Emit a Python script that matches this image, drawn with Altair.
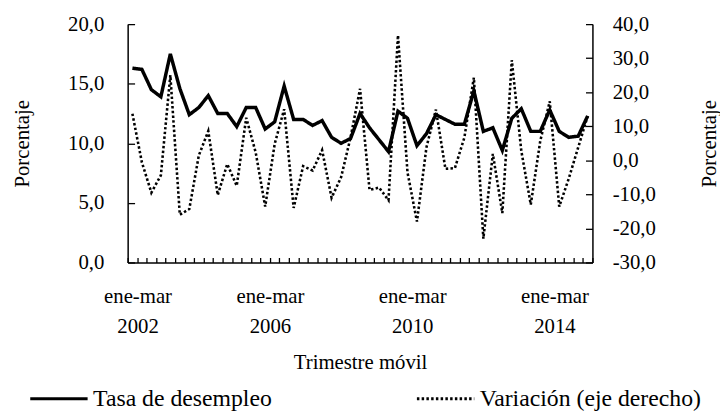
import json
import altair as alt
import pandas as pd

# ---------------- data ----------------
desempleo = [16.3, 16.2, 14.5, 13.9, 17.5, 14.6, 12.4, 13.0, 14.0, 12.5,
             12.5, 11.4, 13.0, 13.0, 11.2, 11.8, 14.8, 12.0, 12.0, 11.5,
             11.9, 10.5, 10.0, 10.4, 12.5, 11.3, 10.3, 9.3, 12.7, 12.1,
             9.8, 10.8, 12.4, 12.0, 11.6, 11.6, 14.4, 11.0, 11.3, 9.4,
             12.1, 12.9, 11.0, 11.0, 12.8, 11.0, 10.5, 10.6, 12.3]
variacion = [13.7, -0.6, -9.5, -4.4, 25.0, -16.0, -14.3, 1.4, 8.6, -10.2,
             -1.1, -7.5, 12.5, 2.3, -13.6, 4.8, 15.0, -14.0, -1.7, -3.0,
             3.0, -11.0, -5.0, 6.7, 21.0, -8.7, -8.0, -11.7, 36.7, -3.5,
             -18.0, 3.8, 14.9, -2.5, -2.3, 6.7, 24.3, -23.0, 1.9, -15.5,
             29.4, 2.8, -13.0, 5.7, 17.3, -13.6, -5.4, 3.8, 13.0]
series = ["Tasa de desempleo", "Variación (eje derecho)"]
x_label_pos = [0, 15, 30, 45]
x_labels = [["ene-mar", "2002"], ["ene-mar", "2006"],
            ["ene-mar", "2010"], ["ene-mar", "2014"]]
y_left_ticks = [0, 5, 10, 15, 20]
y_right_ticks = [-30, -20, -10, 0, 10, 20, 30, 40]

n = len(desempleo)
periodo = list(range(n))
df1 = pd.DataFrame({"pos": [p + 0.5 for p in periodo], "desempleo": desempleo,
                    "serie": series[0]})
df2 = pd.DataFrame({"pos": [p + 0.5 for p in periodo], "variacion": variacion,
                    "serie": series[1]})

FONT = "Liberation Serif"
FS = 21
W, H = 470, 241

x_expr = " : ".join(f"datum.value == {p} ? {json.dumps(l, ensure_ascii=False)}"
                    for p, l in zip(x_label_pos, x_labels)) + " : ''"
num_expr = "replace(replace(format(datum.value, '.1f'), '.', ','), '\u2212', '-')"

x_scale = alt.Scale(domain=[0, n], nice=False, zero=False)
yl_scale = alt.Scale(domain=[0, 20], nice=False, zero=False)
yr_scale = alt.Scale(domain=[-30, 40], nice=False, zero=False)

common_axis = dict(grid=False, labelFont=FONT, labelFontSize=FS, labelColor="black",
                   titleFont=FONT, titleFontSize=FS, titleColor="black",
                   titleFontWeight="normal", domainColor="black", domainWidth=1.5)

x_main = alt.X("pos:Q", scale=x_scale, axis=alt.Axis(
    orient="bottom", values=x_label_pos, labelExpr=x_expr, ticks=False, tickSize=0,
    labelPadding=24, labelLineHeight=30, labelFlush=False, labelOverlap=False,
    labelOffset={"condition": {"test": "datum.value == 0", "value": 10}, "value": 0},
    title="Trimestre móvil", titlePadding=15, **common_axis))
x_ticks = alt.X("pos:Q", scale=x_scale, axis=alt.Axis(
    orient="top", offset=-H, values=list(range(n + 1)), labels=False, domain=False,
    ticks=True, tickSize=5, tickColor="black", tickWidth=1.3, grid=False, title=None))

legend = alt.Legend(orient="none", legendX=-100, legendY=348, direction="horizontal",
                    title=None, labelFont=FONT, labelFontSize=24, labelColor="black",
                    symbolType="stroke", symbolSize=3364, symbolStrokeWidth=3,
                    symbolStrokeColor="black", columnPadding=140, labelOffset=4,
                    padding=0, labelLimit=400)
dash = alt.StrokeDash("serie:N", scale=alt.Scale(domain=series, range=[[1, 0], [2.5, 2.3]]),
                      legend=legend)

left_main = alt.Chart(df1).mark_line(color="black", strokeWidth=3.5).encode(
    x=x_main,
    y=alt.Y("desempleo:Q", scale=yl_scale, axis=alt.Axis(
        orient="left", values=y_left_ticks, labelExpr=num_expr, ticks=False, tickSize=0,
        labelPadding=24, title="Porcentaje", titlePadding=36, **common_axis)),
    strokeDash=dash,
)
left_tick = alt.Chart(df1).mark_line(opacity=0).encode(
    x=x_ticks,
    y=alt.Y("desempleo:Q", scale=yl_scale, axis=alt.Axis(
        orient="right", offset=-W, values=y_left_ticks, labels=False, domain=False,
        tickSize=7, tickColor="black", tickWidth=1.3, grid=False, title=None)),
)
right_main = alt.Chart(df2).mark_line(color="black", strokeWidth=2.6).encode(
    x=alt.X("pos:Q", scale=x_scale, axis=None),
    y=alt.Y("variacion:Q", scale=yr_scale, axis=alt.Axis(
        orient="right", values=y_right_ticks, labelExpr=num_expr, ticks=False, tickSize=0,
        labelPadding=20, labelAlign="left", title="Porcentaje", titleAngle=270,
        titlePadding=65, **common_axis)),
    strokeDash=dash,
)
right_tick = alt.Chart(df2).mark_line(opacity=0).encode(
    x=alt.X("pos:Q", scale=x_scale, axis=None),
    y=alt.Y("variacion:Q", scale=yr_scale, axis=alt.Axis(
        orient="left", offset=-W, values=y_right_ticks, labels=False, domain=False,
        tickSize=7, tickColor="black", tickWidth=1.3, grid=False, title=None)),
)

left_layer = alt.layer(left_main, left_tick)
right_layer = alt.layer(right_main, right_tick)

chart = alt.layer(left_layer, right_layer).resolve_scale(y="independent").properties(
    width=W, height=H,
    autosize=alt.AutoSizeParams(type="none"),
    padding={"left": 121, "top": 14, "right": 129, "bottom": 156},
).configure_view(stroke=None)

chart.save("out.html", embed_options={"renderer": "svg", "actions": False})
